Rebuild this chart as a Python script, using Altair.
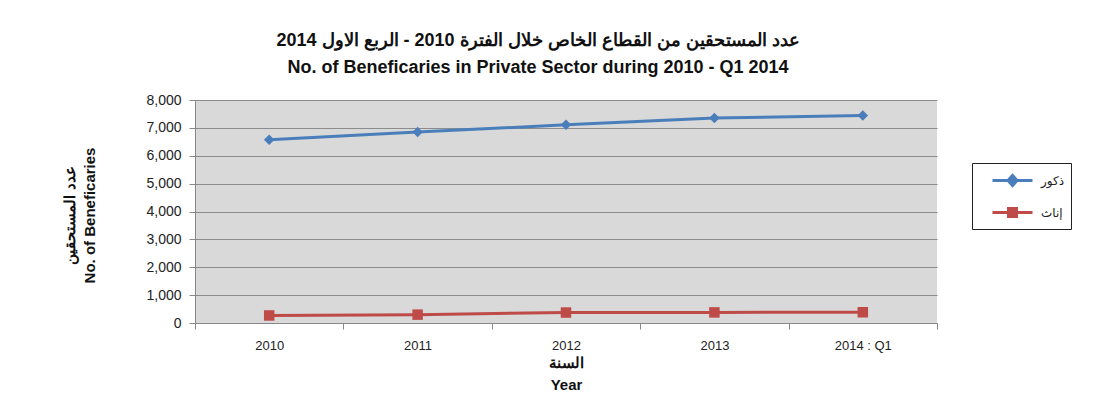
import altair as alt
import pandas as pd

years = ["2010", "2011", "2012", "2013", "2014 : Q1"]
males = [6570, 6850, 7110, 7350, 7440]
females = [270, 300, 375, 380, 385]
series_names = ["ذكور", "إناث"]
colors = ["#4A7EBB", "#BE4B48"]
point_shapes = ["diamond", "square"]

rows = []
for y, m, f in zip(years, males, females):
    rows.append({"year": y, "series": series_names[0], "value": m})
    rows.append({"year": y, "series": series_names[1], "value": f})
df = pd.DataFrame(rows)

FONT = "Liberation Sans"

x_enc = alt.X("year:N", sort=years, bandPosition=0.5,
              scale=alt.Scale(type="band", paddingInner=0, paddingOuter=0),
              axis=alt.Axis(title=["السنة", "Year"], labelAngle=0, tickBand="extent",
                            labelFontSize=13, labelColor="#222", labelPadding=10,
                            tickSize=6, tickColor="#888", domainColor="#888",
                            titleFontSize=15, titleFontWeight="bold", titleColor="#111",
                            titleY=32, titleBaseline="top", titleLineHeight=22,
                            grid=False, labelFont=FONT, titleFont=FONT))
y_enc = alt.Y("value:Q", scale=alt.Scale(domain=[0, 8000]),
              axis=alt.Axis(title=["عدد المستحقين", "No. of Beneficaries"], format=",.0f",
                            values=[0, 1000, 2000, 3000, 4000, 5000, 6000, 7000, 8000],
                            labelFontSize=14, labelColor="#222", labelPadding=8,
                            tickSize=6, tickColor="#888", domainColor="#888",
                            gridColor="#8C8C8C", gridWidth=1.2,
                            titleFontSize=15, titleFontWeight="bold", titleColor="#111",
                            titleAngle=270, titleX=-126, titleY=115, titleAlign="center",
                            titleBaseline="middle", titleLineHeight=20,
                            labelFont=FONT, titleFont=FONT))

base = alt.Chart(df).encode(x=x_enc, y=y_enc)

series_layers = []
for name, col, shp in zip(series_names, colors, point_shapes):
    sub = base.transform_filter(alt.datum.series == name)
    series_layers.append(sub.mark_line(strokeWidth=3, color=col))
    series_layers.append(sub.mark_point(filled=True, opacity=1, size=110, shape=shp, color=col))

leg_paths = [
    "M0.3,0H4.3M1.85,0L2.3,-0.5L2.75,0L2.3,0.5Z",
    "M0.3,0H4.3M1.9,-0.4H2.7V0.4H1.9Z",
]
leg_spec = dict(title=None, orient="none", legendX=777, legendY=63,
                padding=6, rowPadding=9, symbolSize=400,
                symbolStrokeWidth=3, symbolOpacity=1,
                labelFontSize=12, labelColor="#222",
                labelFont="DejaVu Sans", labelOffset=40,
                strokeColor="#222", fillColor="white")
leg_colors = alt.Scale(domain=series_names, range=colors)
legend_layer = base.mark_point(filled=True, size=1).encode(
    fill=alt.Fill("series:N", sort=series_names, scale=leg_colors,
                  legend=alt.Legend(**leg_spec)),
    stroke=alt.Stroke("series:N", sort=series_names, scale=leg_colors,
                      legend=alt.Legend(**leg_spec)),
    shape=alt.Shape("series:N", sort=series_names,
                    scale=alt.Scale(domain=series_names, range=leg_paths),
                    legend=alt.Legend(**leg_spec)),
)

chart = alt.layer(legend_layer, *series_layers).properties(
    width=742, height=223,
    autosize=alt.AutoSizeParams(type="none"),
    padding={"left": 187, "top": 92, "right": 160, "bottom": 70},
    title=alt.TitleParams(
        text=["عدد المستحقين من القطاع الخاص خلال الفترة 2010 - الربع الاول 2014",
              "No. of Beneficaries in Private Sector during 2010 - Q1 2014"],
        fontSize=18, fontWeight="bold", font=FONT, color="#111",
        anchor="middle", dx=-28, lineHeight=27, offset=16),
).configure(background="white").configure_view(fill="#D9D9D9", stroke=None)

chart.save("out.html", embed_options={"renderer": "svg", "actions": False})
